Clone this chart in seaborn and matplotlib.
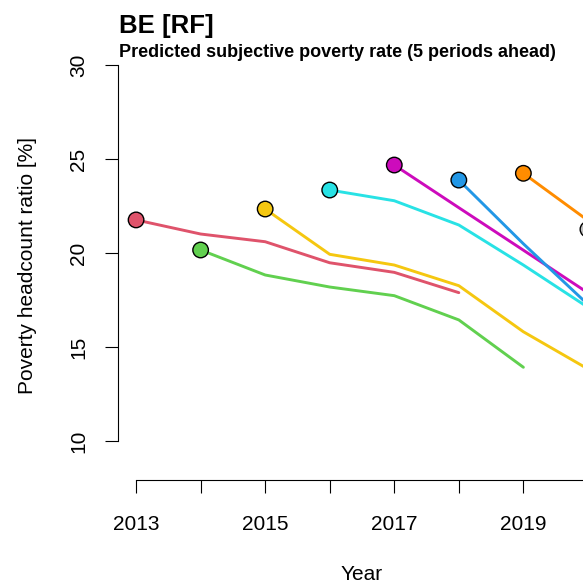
import pandas as pd
import seaborn as sns
import matplotlib.pyplot as plt

# 5-period-ahead predictions, one series per origin year
pred_2013 = [21.76, 21.01, 20.60, 19.48, 18.97, 17.89]
pred_2014 = [20.16, 18.83, 18.19, 17.73, 16.44, 13.92]
pred_2015 = [22.34, 19.93, 19.36, 18.26, 15.81, 13.83]
pred_2016 = [23.35, 22.78, 21.49, 19.36, 17.11]
pred_2017 = [24.68, 22.41, 20.15, 17.88]
pred_2018 = [23.88, 20.49, 17.26]
pred_2019 = [24.24, 21.73]
pred_2020 = [21.26]

origins = [2013, 2014, 2015, 2016, 2017, 2018, 2019, 2020]
series = [pred_2013, pred_2014, pred_2015, pred_2016, pred_2017, pred_2018, pred_2019, pred_2020]
colors = ['#DF536B', '#61D04F', '#F5C710', '#28E2E5', '#CD0BBC', '#2297E6', '#FF8C00', '#BEBEBE']

rows = []
for start, vals in zip(origins, series):
    for i, v in enumerate(vals):
        rows.append({'origin': start, 'year': start + i, 'rate': v})
df = pd.DataFrame(rows)
starts = df[df['year'] == df['origin']]
palette = dict(zip(origins, colors))

sns.set_style('white')
plt.rcParams['font.family'] = ['Liberation Sans', 'DejaVu Sans']
plt.rcParams['text.color'] = 'black'
plt.rcParams['xtick.color'] = 'black'
plt.rcParams['ytick.color'] = 'black'

W, H = 583, 586
fig = plt.figure(figsize=(W / 100, H / 100), dpi=100)
# plot region in pixels: x 118..606 (runs past the right edge), y 50..456
ax = fig.add_axes([118 / W, 1 - 456 / H, 488 / W, 406 / H])

sns.lineplot(data=df, x='year', y='rate', hue='origin', palette=palette,
             linewidth=2.1, legend=False, ax=ax, estimator=None)
sns.scatterplot(data=starts, x='year', y='rate', hue='origin', palette=palette,
                s=125, edgecolor='black', linewidth=1.0, legend=False, ax=ax, zorder=5)

ax.set_xlim(2012.72, 2020.28)
ax.set_ylim(9.2, 30.8)

for side in ['top', 'right']:
    ax.spines[side].set_visible(False)
ax.spines['left'].set_bounds(10, 30)
ax.spines['bottom'].set_bounds(2013, 2020)
ax.spines['bottom'].set_position(('outward', 17.3))
for side in ['left', 'bottom']:
    ax.spines[side].set_color('black')
    ax.spines[side].set_linewidth(0.8)

ax.set_xticks(list(range(2013, 2021)))
ax.set_xticklabels([str(y) if y % 2 == 1 else '' for y in range(2013, 2021)])
ax.set_yticks([10, 15, 20, 25, 30])
ax.set_yticklabels(['10', '15', '20', '25', '30'], rotation=90, va='center')
ax.tick_params(axis='x', direction='out', length=9.4, width=0.8,
               pad=15.5, labelsize=15, bottom=True)
ax.tick_params(axis='y', direction='out', length=9.4, width=0.8,
               pad=12, labelsize=15, left=True)

ax.set_xlabel('')
ax.set_ylabel('')
fig.text(362 / W, 1 - 575 / H, 'Year', ha='center', va='center', fontsize=15)
fig.text(28 / W, 1 - 266 / H, 'Poverty headcount ratio [%]', rotation=90,
         ha='center', va='center', fontsize=15)

fig.text(119 / W, 1 - 32.7 / H, 'BE [RF]', fontsize=18.5, fontweight='bold', va='baseline')
fig.text(119 / W, 1 - 57.3 / H, 'Predicted subjective poverty rate (5 periods ahead)',
         fontsize=13, fontweight='bold', va='baseline')

fig.savefig('out.png', dpi=100)
